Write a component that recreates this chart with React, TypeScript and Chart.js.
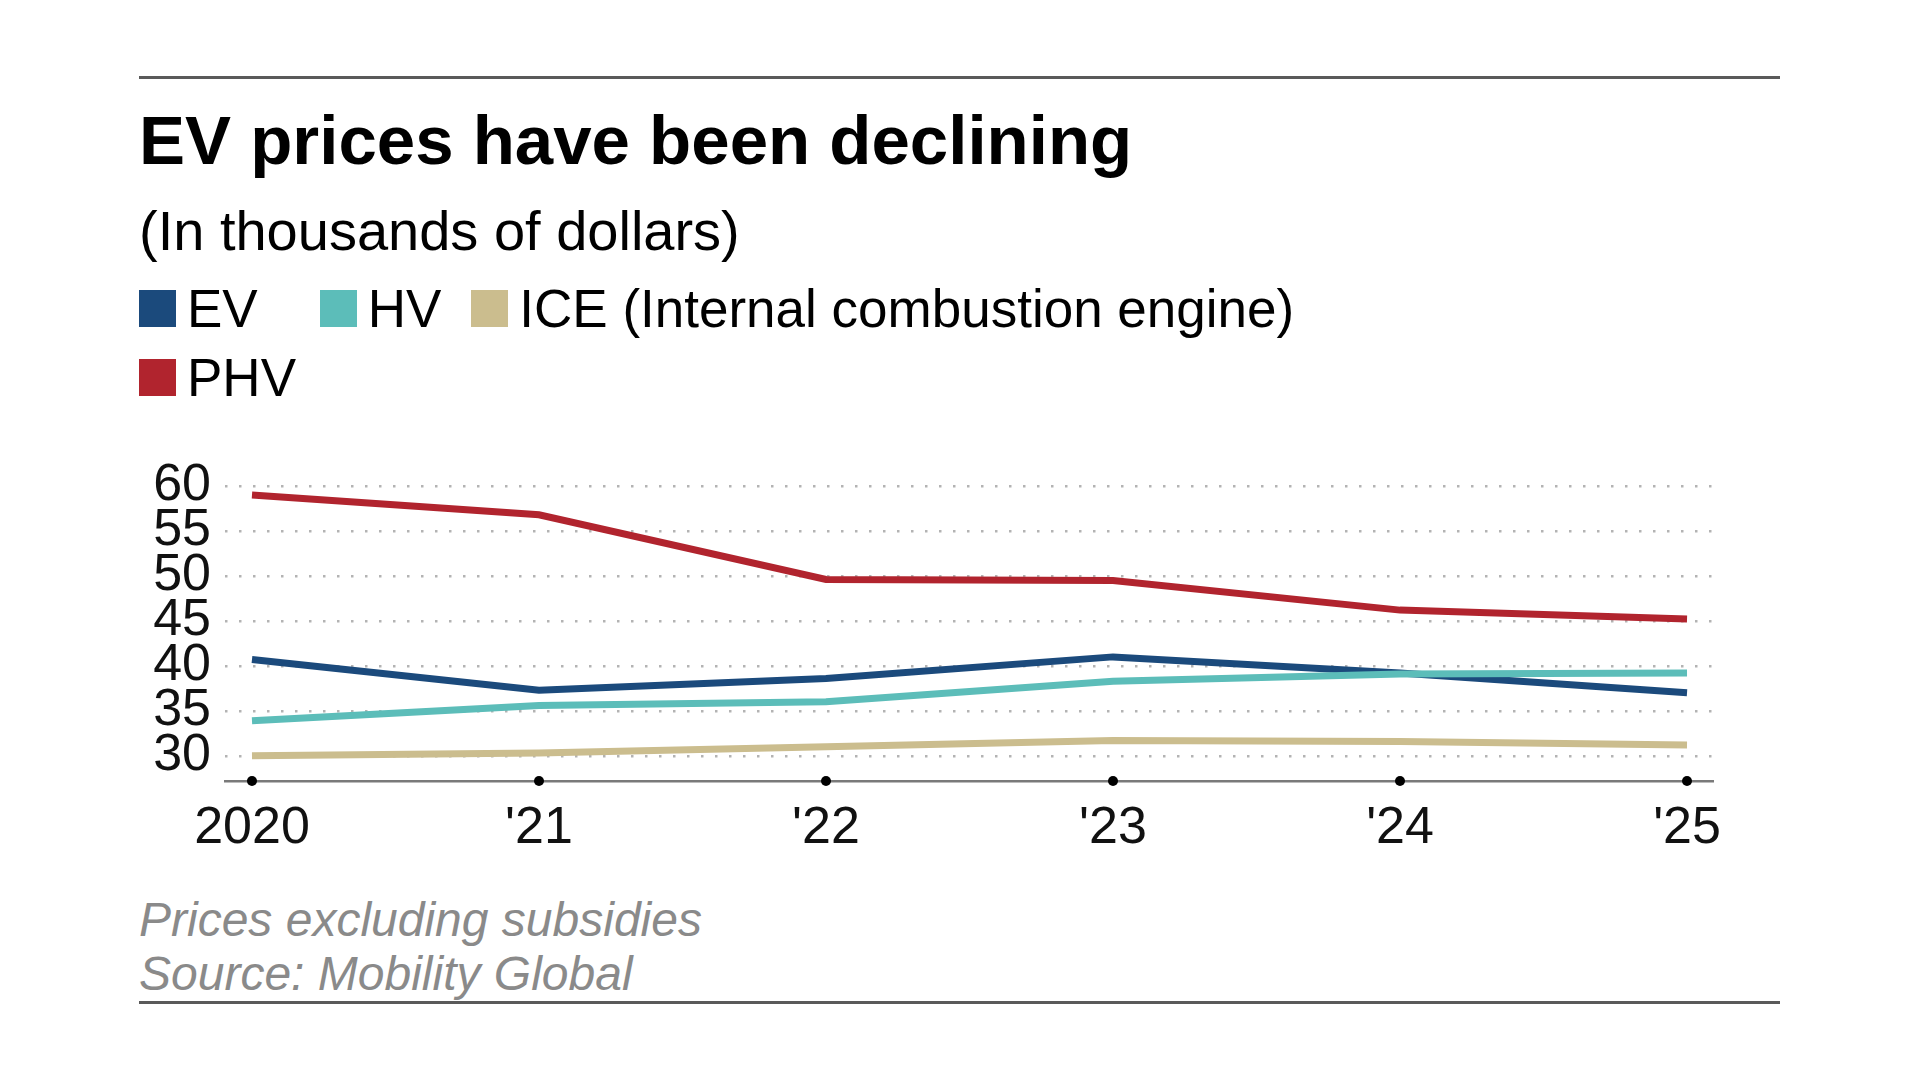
import React, { useEffect, useRef } from "react";
import { Chart, registerables } from "chart.js";

Chart.register(...registerables);

const years = ["2020", "'21", "'22", "'23", "'24", "'25"];
const evPrices = [40.7, 37.3, 38.6, 41.0, 39.2, 37.0];
const hvPrices = [33.9, 35.6, 36.0, 38.3, 39.1, 39.2];
const icePrices = [30.0, 30.3, 31.0, 31.7, 31.6, 31.2];
const phvPrices = [59.0, 56.8, 49.6, 49.5, 46.2, 45.2];

const legendItems = [
  { label: "EV", color: "#1b4a7c" },
  { label: "HV", color: "#5cbdb9" },
  { label: "ICE (Internal combustion engine)", color: "#cbbd8e" },
  { label: "PHV", color: "#b1242e" },
];

const FONT = '"Liberation Sans", Arial, Helvetica, sans-serif';

const toPoints = (values: number[]) => values.map((v, i) => ({ x: i, y: v }));

// small round markers on the x axis, one per tick
const axisDots = {
  id: "axisDots",
  afterDraw(chart: any) {
    const { ctx, chartArea } = chart;
    const xScale = chart.scales.x;
    ctx.save();
    ctx.fillStyle = "#000";
    xScale.ticks.forEach((t: any) => {
      const px = xScale.getPixelForValue(t.value);
      ctx.beginPath();
      ctx.arc(px, chartArea.bottom, 5, 0, Math.PI * 2);
      ctx.fill();
    });
    ctx.restore();
  },
};

const App: React.FC = () => {
  const canvasRef = useRef<HTMLCanvasElement | null>(null);
  const chartRef = useRef<Chart | null>(null);

  useEffect(() => {
    if (!canvasRef.current) return;
    if (chartRef.current) chartRef.current.destroy();

    const line = (label: string, data: number[], color: string, order: number) => ({
      label,
      data: toPoints(data),
      borderColor: color,
      backgroundColor: color,
      borderWidth: 7,
      pointRadius: 0,
      tension: 0,
      order,
    });

    chartRef.current = new Chart(canvasRef.current, {
      type: "line",
      data: {
        datasets: [
          line("EV", evPrices, legendItems[0].color, 1),
          line("HV", hvPrices, legendItems[1].color, 0),
          line("ICE", icePrices, legendItems[2].color, 2),
          line("PHV", phvPrices, legendItems[3].color, 1),
        ],
      },
      options: {
        animation: false,
        responsive: true,
        maintainAspectRatio: false,
        layout: { padding: { top: 49, right: 38, bottom: 0, left: 0 } },
        plugins: {
          legend: { display: false },
          tooltip: { enabled: false },
        },
        scales: {
          x: {
            type: "linear",
            min: -0.094,
            max: 5.094,
            afterFit: (scale: any) => {
              scale.height = 80;
            },
            grid: { display: true, lineWidth: 0, drawTicks: false },
            border: { display: true, color: "#7a7a7a", width: 2.5 },
            ticks: {
              stepSize: 1,
              includeBounds: false,
              autoSkip: false,
              maxRotation: 0,
              padding: 16,
              color: "#111",
              font: { family: FONT, size: 52 },
              callback: (v: any) => years[v] ?? "",
            },
          },
          y: {
            min: 27.2,
            max: 60,
            afterFit: (scale: any) => {
              scale.width = 85;
            },
            grid: { color: "#b3b3b3", lineWidth: 2.5, drawTicks: false },
            border: { display: false, dash: [2.5, 11.5] },
            ticks: {
              stepSize: 5,
              includeBounds: false,
              autoSkip: false,
              padding: 14,
              color: "#111",
              font: { family: FONT, size: 52, lineHeight: 1 },
            },
          },
        },
      },
      plugins: [axisDots],
    });

    return () => {
      if (chartRef.current) {
        chartRef.current.destroy();
        chartRef.current = null;
      }
    };
  }, []);

  return (
    <div
      style={{
        position: "absolute",
        left: 0,
        top: 0,
        width: 1920,
        height: 1082,
        background: "#fff",
        fontFamily: FONT,
        color: "#000",
      }}
    >
      <div style={{ position: "absolute", left: 139, top: 76, width: 1641, height: 2.5, background: "#5a5a5a" }} />

      <div style={{ position: "absolute", left: 139, top: 105.6, fontSize: 69, fontWeight: "bold", lineHeight: 1, whiteSpace: "nowrap" }}>
        EV prices have been declining
      </div>

      <div style={{ position: "absolute", left: 139, top: 202.6, fontSize: 56, lineHeight: 1, whiteSpace: "nowrap" }}>
        (In thousands of dollars)
      </div>

      <div
        style={{
          position: "absolute",
          left: 139,
          top: 282,
          width: 1240,
          display: "flex",
          flexWrap: "wrap",
          rowGap: 16,
          fontSize: 53,
          lineHeight: 1,
        }}
      >
        {legendItems.map((item, i) => (
          <div
            key={item.label}
            style={{
              display: "flex",
              alignItems: "center",
              marginRight: i === 0 ? 62 : 30,
              whiteSpace: "nowrap",
            }}
          >
            <span style={{ display: "inline-block", width: 37, height: 37, background: item.color, marginRight: 11 }} />
            <span>{item.label}</span>
          </div>
        ))}
      </div>

      <div style={{ position: "absolute", left: 140, top: 437, width: 1612, height: 424 }}>
        <canvas ref={canvasRef} />
      </div>

      <div style={{ position: "absolute", left: 139, top: 893, fontSize: 48, lineHeight: "54px", fontStyle: "italic", color: "#8a8a8a", whiteSpace: "nowrap" }}>
        <div>Prices excluding subsidies</div>
        <div>Source: Mobility Global</div>
      </div>

      <div style={{ position: "absolute", left: 139, top: 1001, width: 1641, height: 2.5, background: "#5a5a5a" }} />
    </div>
  );
};

export default App;
